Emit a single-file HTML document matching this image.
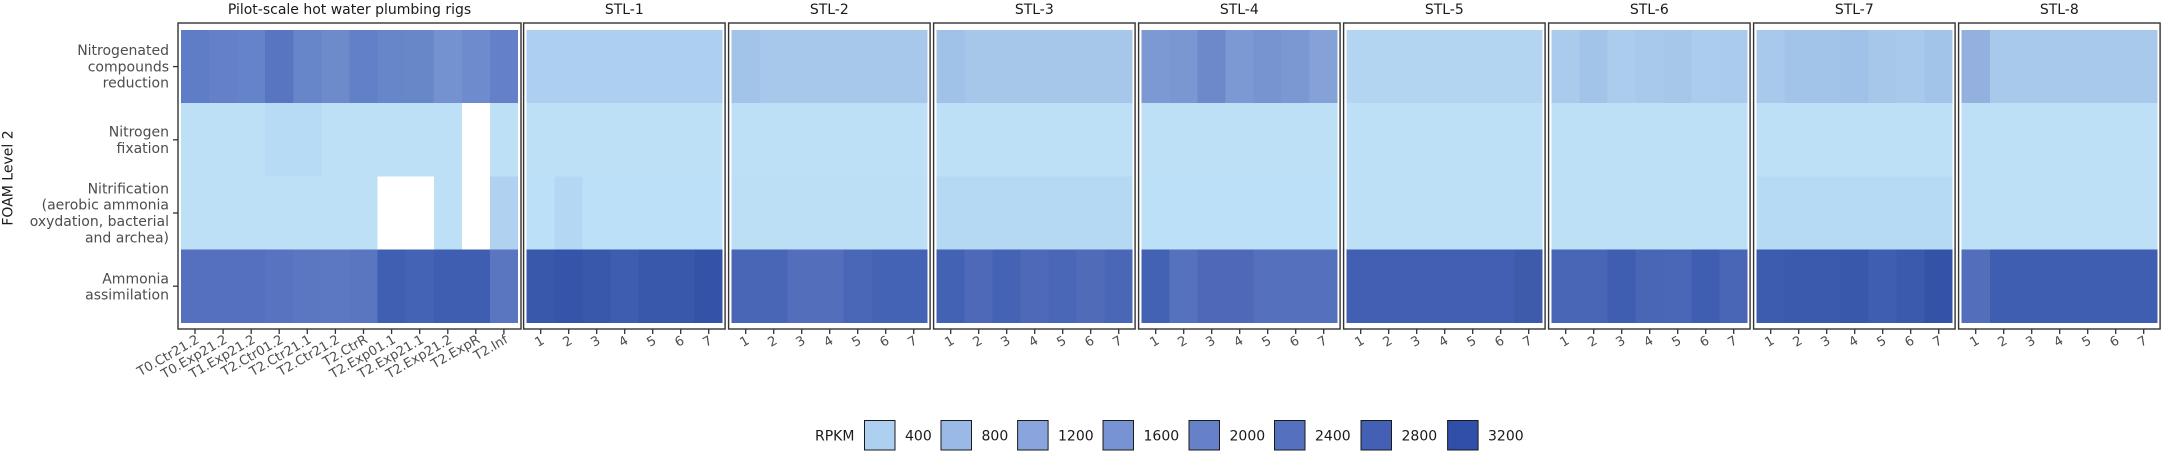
<!DOCTYPE html>
<html><head><meta charset="utf-8"><style>
html,body{margin:0;padding:0;background:#fff;}
svg{display:block;font-family:"DejaVu Sans","Liberation Sans",sans-serif;}
</style></head><body>
<svg width="2162" height="453" viewBox="0 0 2162 453" xmlns="http://www.w3.org/2000/svg">
<g shape-rendering="crispEdges">
<!-- Panel 1 tiles: x0=181, w=28.08 -->
<g transform="translate(181,30)">
<!-- row1 -->
<rect x="0" y="0" width="28.5" height="73.3" fill="#5f7dc6"/>
<rect x="28.08" y="0" width="28.5" height="73.3" fill="#6380c8"/>
<rect x="56.16" y="0" width="28.5" height="73.3" fill="#6483c8"/>
<rect x="84.24" y="0" width="28.5" height="73.3" fill="#5875c2"/>
<rect x="112.32" y="0" width="28.5" height="73.3" fill="#6785c9"/>
<rect x="140.4" y="0" width="28.5" height="73.3" fill="#6d8aca"/>
<rect x="168.48" y="0" width="28.5" height="73.3" fill="#6180c7"/>
<rect x="196.56" y="0" width="28.5" height="73.3" fill="#6785c9"/>
<rect x="224.64" y="0" width="28.5" height="73.3" fill="#6887c9"/>
<rect x="252.72" y="0" width="28.5" height="73.3" fill="#7492cf"/>
<rect x="280.8" y="0" width="28.5" height="73.3" fill="#6d8bcd"/>
<rect x="308.88" y="0" width="28.1" height="73.3" fill="#6480c8"/>
<!-- row2 -->
<rect x="0" y="73.2" width="337" height="73.3" fill="#bde0f7"/>
<rect x="84.24" y="73.2" width="56.2" height="73.3" fill="#b8dbf5"/>
<rect x="280.8" y="73.2" width="28.1" height="73.3" fill="#ffffff"/>
<!-- row3 -->
<rect x="0" y="146.4" width="337" height="73.3" fill="#bde0f7"/>
<rect x="196.56" y="146.4" width="56.2" height="73.3" fill="#ffffff"/>
<rect x="280.8" y="146.4" width="28.1" height="73.3" fill="#ffffff"/>
<rect x="308.88" y="146.4" width="28.1" height="73.3" fill="#b0d2f0"/>
<!-- row4 -->
<rect x="0" y="219.6" width="85" height="73.2" fill="#5570bf"/>
<rect x="84.24" y="219.6" width="28.5" height="73.2" fill="#5874c0"/>
<rect x="112.32" y="219.6" width="28.5" height="73.2" fill="#5b77c2"/>
<rect x="140.4" y="219.6" width="28.5" height="73.2" fill="#5c78c2"/>
<rect x="168.48" y="219.6" width="28.5" height="73.2" fill="#5a76c1"/>
<rect x="196.56" y="219.6" width="28.5" height="73.2" fill="#3f5fb3"/>
<rect x="224.64" y="219.6" width="28.5" height="73.2" fill="#4563b5"/>
<rect x="252.72" y="219.6" width="56.5" height="73.2" fill="#3f5eb2"/>
<rect x="308.88" y="219.6" width="28.1" height="73.2" fill="#5a76c1"/>
</g>

<!-- STL-1 L=523.6 tiles x=526.7 -->
<g transform="translate(526.7,30)">
<rect x="0" y="0" width="196" height="73.3" fill="#aed0f0"/>
<rect x="0" y="73.2" width="196" height="73.3" fill="#bde0f7"/>
<rect x="0" y="146.4" width="196" height="73.3" fill="#bce0f7"/>
<rect x="28" y="146.4" width="28" height="73.3" fill="#b4d7f3"/>
<rect x="0" y="219.6" width="28.5" height="73.2" fill="#3858ab"/>
<rect x="28" y="219.6" width="28.5" height="73.2" fill="#3455a9"/>
<rect x="56" y="219.6" width="28.5" height="73.2" fill="#3858ab"/>
<rect x="84" y="219.6" width="28.5" height="73.2" fill="#3d5db0"/>
<rect x="112" y="219.6" width="56.5" height="73.2" fill="#3858ab"/>
<rect x="168" y="219.6" width="28" height="73.2" fill="#3353a8"/>
</g>
<!-- STL-2 -->
<g transform="translate(731.7,30)">
<rect x="0" y="0" width="196" height="73.3" fill="#a7c8eb"/>
<rect x="0" y="0" width="28.5" height="73.3" fill="#a3c4e9"/>
<rect x="0" y="73.2" width="196" height="73.3" fill="#bde0f7"/>
<rect x="0" y="146.4" width="196" height="73.3" fill="#bcdff6"/>
<rect x="0" y="219.6" width="56.5" height="73.2" fill="#4865b6"/>
<rect x="56" y="219.6" width="56.5" height="73.2" fill="#536fbc"/>
<rect x="112" y="219.6" width="28.5" height="73.2" fill="#4a67b7"/>
<rect x="140" y="219.6" width="56" height="73.2" fill="#4563b5"/>
</g>
<!-- STL-3 -->
<g transform="translate(936.7,30)">
<rect x="0" y="0" width="196" height="73.3" fill="#a6c7ea"/>
<rect x="0" y="0" width="28.5" height="73.3" fill="#a1c2e8"/>
<rect x="0" y="73.2" width="196" height="73.3" fill="#bde0f7"/>
<rect x="0" y="146.4" width="196" height="73.3" fill="#b5d8f3"/>
<rect x="0" y="219.6" width="28.5" height="73.2" fill="#4462b4"/>
<rect x="28" y="219.6" width="28.5" height="73.2" fill="#4d69b8"/>
<rect x="56" y="219.6" width="28.5" height="73.2" fill="#4563b5"/>
<rect x="84" y="219.6" width="28.5" height="73.2" fill="#4d69b8"/>
<rect x="112" y="219.6" width="28.5" height="73.2" fill="#4a67b7"/>
<rect x="140" y="219.6" width="28.5" height="73.2" fill="#506cb9"/>
<rect x="168" y="219.6" width="28" height="73.2" fill="#4a67b7"/>
</g>
<!-- STL-4 -->
<g transform="translate(1141.7,30)">
<rect x="0" y="0" width="28.5" height="73.3" fill="#7d99d3"/>
<rect x="28" y="0" width="28.5" height="73.3" fill="#7b97d2"/>
<rect x="56" y="0" width="28.5" height="73.3" fill="#6e89ca"/>
<rect x="84" y="0" width="28.5" height="73.3" fill="#7d99d3"/>
<rect x="112" y="0" width="28.5" height="73.3" fill="#7794d0"/>
<rect x="140" y="0" width="28.5" height="73.3" fill="#7c98d3"/>
<rect x="168" y="0" width="28" height="73.3" fill="#86a1d8"/>
<rect x="0" y="73.2" width="196" height="73.3" fill="#bde0f7"/>
<rect x="0" y="146.4" width="196" height="73.3" fill="#bce0f7"/>
<rect x="0" y="219.6" width="28.5" height="73.2" fill="#4462b4"/>
<rect x="28" y="219.6" width="28.5" height="73.2" fill="#5572bd"/>
<rect x="56" y="219.6" width="56.5" height="73.2" fill="#5068b8"/>
<rect x="112" y="219.6" width="84" height="73.2" fill="#5570bd"/>
</g>
<!-- STL-5 -->
<g transform="translate(1346.7,30)">
<rect x="0" y="0" width="196" height="73.3" fill="#b3d5f2"/>
<rect x="0" y="73.2" width="196" height="73.3" fill="#bde0f7"/>
<rect x="0" y="146.4" width="196" height="73.3" fill="#bde0f7"/>
<rect x="0" y="219.6" width="196" height="73.2" fill="#425fb3"/>
<rect x="168" y="219.6" width="28" height="73.2" fill="#3d5aab"/>
</g>
<!-- STL-6 -->
<g transform="translate(1551.7,30)">
<rect x="0" y="0" width="28.5" height="73.3" fill="#aacbec"/>
<rect x="28" y="0" width="28.5" height="73.3" fill="#a3c4e9"/>
<rect x="56" y="0" width="28.5" height="73.3" fill="#abcced"/>
<rect x="84" y="0" width="28.5" height="73.3" fill="#a8c9eb"/>
<rect x="112" y="0" width="28.5" height="73.3" fill="#a6c7ea"/>
<rect x="140" y="0" width="28.5" height="73.3" fill="#abcced"/>
<rect x="168" y="0" width="28" height="73.3" fill="#aacbec"/>
<rect x="0" y="73.2" width="196" height="73.3" fill="#bde0f7"/>
<rect x="0" y="146.4" width="196" height="73.3" fill="#bde0f7"/>
<rect x="0" y="219.6" width="56.5" height="73.2" fill="#4865b6"/>
<rect x="56" y="219.6" width="28.5" height="73.2" fill="#3f5eb2"/>
<rect x="84" y="219.6" width="28.5" height="73.2" fill="#4865b6"/>
<rect x="112" y="219.6" width="28.5" height="73.2" fill="#4a67b7"/>
<rect x="140" y="219.6" width="28.5" height="73.2" fill="#3f5eb2"/>
<rect x="168" y="219.6" width="28" height="73.2" fill="#4865b6"/>
</g>
<!-- STL-7 -->
<g transform="translate(1756.7,30)">
<rect x="0" y="0" width="28.5" height="73.3" fill="#a8c9eb"/>
<rect x="28" y="0" width="56.5" height="73.3" fill="#a3c4e9"/>
<rect x="84" y="0" width="28.5" height="73.3" fill="#a1c2e8"/>
<rect x="112" y="0" width="28.5" height="73.3" fill="#a6c7ea"/>
<rect x="140" y="0" width="28.5" height="73.3" fill="#a8c9eb"/>
<rect x="168" y="0" width="28" height="73.3" fill="#a3c4e9"/>
<rect x="0" y="73.2" width="196" height="73.3" fill="#bde0f7"/>
<rect x="0" y="146.4" width="196" height="73.3" fill="#b7daf4"/>
<rect x="0" y="219.6" width="28.5" height="73.2" fill="#3c5cb0"/>
<rect x="28" y="219.6" width="56.5" height="73.2" fill="#3a5aae"/>
<rect x="84" y="219.6" width="28.5" height="73.2" fill="#3858ab"/>
<rect x="112" y="219.6" width="28.5" height="73.2" fill="#3f5eb2"/>
<rect x="140" y="219.6" width="28.5" height="73.2" fill="#3a5aae"/>
<rect x="168" y="219.6" width="28" height="73.2" fill="#3353a8"/>
</g>
<!-- STL-8 -->
<g transform="translate(1961.7,30)">
<rect x="0" y="0" width="196" height="73.3" fill="#a8c9eb"/>
<rect x="0" y="0" width="28.5" height="73.3" fill="#94b0de"/>
<rect x="0" y="73.2" width="196" height="73.3" fill="#bde0f7"/>
<rect x="0" y="146.4" width="196" height="73.3" fill="#bde0f7"/>
<rect x="0" y="219.6" width="196" height="73.2" fill="#3f5eb2"/>
<rect x="0" y="219.6" width="28.5" height="73.2" fill="#536fbc"/>
</g>
</g>

<!-- Frames -->
<g fill="none" stroke="#333" stroke-width="1.4">
<rect x="178" y="23" width="343" height="306"/>
<rect x="523.6" y="23" width="201.5" height="306"/>
<rect x="728.6" y="23" width="201.5" height="306"/>
<rect x="933.6" y="23" width="201.5" height="306"/>
<rect x="1138.6" y="23" width="201.5" height="306"/>
<rect x="1343.6" y="23" width="201.5" height="306"/>
<rect x="1548.6" y="23" width="201.5" height="306"/>
<rect x="1753.6" y="23" width="201.5" height="306"/>
<rect x="1958.6" y="23" width="201.5" height="306"/>
</g>

<!-- y ticks -->
<g stroke="#333" stroke-width="1.3">
<line x1="173" y1="66.6" x2="178" y2="66.6"/>
<line x1="173" y1="139.8" x2="178" y2="139.8"/>
<line x1="173" y1="213" x2="178" y2="213"/>
<line x1="173" y1="286.2" x2="178" y2="286.2"/>
</g>

<!-- x ticks -->
<g stroke="#333" stroke-width="1.3">
<path d="M195 329v5M223.1 329v5M251.2 329v5M279.2 329v5M307.3 329v5M335.4 329v5M363.5 329v5M391.6 329v5M419.7 329v5M447.8 329v5M475.8 329v5M503.9 329v5"/>
<path id="tk" d="M540.7 329v5M568.7 329v5M596.7 329v5M624.7 329v5M652.7 329v5M680.7 329v5M708.7 329v5"/>
<use href="#tk" x="205"/><use href="#tk" x="410"/><use href="#tk" x="615"/><use href="#tk" x="820"/><use href="#tk" x="1025"/><use href="#tk" x="1230"/><use href="#tk" x="1435"/>
</g>

<!-- Titles -->
<g font-size="14" fill="#1a1a1a" text-anchor="middle">
<text x="349.5" y="14">Pilot-scale hot water plumbing rigs</text>
<text x="624.3" y="14">STL-1</text>
<text x="829.3" y="14">STL-2</text>
<text x="1034.3" y="14">STL-3</text>
<text x="1239.3" y="14">STL-4</text>
<text x="1444.3" y="14">STL-5</text>
<text x="1649.3" y="14">STL-6</text>
<text x="1854.3" y="14">STL-7</text>
<text x="2059.3" y="14">STL-8</text>
</g>

<!-- Y labels -->
<g font-size="14" fill="#4d4d4d" text-anchor="end">
<text x="169" y="55">Nitrogenated</text>
<text x="169" y="71.3">compounds</text>
<text x="169" y="87.6">reduction</text>
<text x="169" y="136.5">Nitrogen</text>
<text x="169" y="152.8">fixation</text>
<text x="169" y="193.4">Nitrification</text>
<text x="169" y="209.7">(aerobic ammonia</text>
<text x="169" y="226">oxydation, bacterial</text>
<text x="169" y="242.3">and archea)</text>
<text x="169" y="283.3">Ammonia</text>
<text x="169" y="299.6">assimilation</text>
</g>
<text x="12.5" y="178" font-size="14" fill="#1a1a1a" text-anchor="middle" transform="rotate(-90 12.5 178)">FOAM Level 2</text>

<!-- X labels panel 1 -->
<g font-size="13" fill="#4d4d4d" text-anchor="end">
<text transform="translate(200,342) rotate(-30)">T0.Ctr21.2</text>
<text transform="translate(228.1,342) rotate(-30)">T0.Exp21.2</text>
<text transform="translate(256.2,342) rotate(-30)">T1.Exp21.2</text>
<text transform="translate(284.2,342) rotate(-30)">T2.Ctr01.2</text>
<text transform="translate(312.3,342) rotate(-30)">T2.Ctr21.1</text>
<text transform="translate(340.4,342) rotate(-30)">T2.Ctr21.2</text>
<text transform="translate(368.5,342) rotate(-30)">T2.CtrR</text>
<text transform="translate(396.6,342) rotate(-30)">T2.Exp01.1</text>
<text transform="translate(424.7,342) rotate(-30)">T2.Exp21.1</text>
<text transform="translate(452.8,342) rotate(-30)">T2.Exp21.2</text>
<text transform="translate(480.8,342) rotate(-30)">T2.ExpR</text>
<text transform="translate(508.9,342) rotate(-30)">T2.Inf</text>
</g>
<!-- X labels STL -->
<g font-size="13" fill="#4d4d4d" text-anchor="end">
<g id="nums">
<text transform="translate(545.2,343) rotate(-30)">1</text>
<text transform="translate(573.2,343) rotate(-30)">2</text>
<text transform="translate(601.2,343) rotate(-30)">3</text>
<text transform="translate(629.2,343) rotate(-30)">4</text>
<text transform="translate(657.2,343) rotate(-30)">5</text>
<text transform="translate(685.2,343) rotate(-30)">6</text>
<text transform="translate(713.2,343) rotate(-30)">7</text>
</g>
<g transform="translate(205,0)"><text transform="translate(545.2,343) rotate(-30)">1</text><text transform="translate(573.2,343) rotate(-30)">2</text><text transform="translate(601.2,343) rotate(-30)">3</text><text transform="translate(629.2,343) rotate(-30)">4</text><text transform="translate(657.2,343) rotate(-30)">5</text><text transform="translate(685.2,343) rotate(-30)">6</text><text transform="translate(713.2,343) rotate(-30)">7</text></g>
<g transform="translate(410,0)"><text transform="translate(545.2,343) rotate(-30)">1</text><text transform="translate(573.2,343) rotate(-30)">2</text><text transform="translate(601.2,343) rotate(-30)">3</text><text transform="translate(629.2,343) rotate(-30)">4</text><text transform="translate(657.2,343) rotate(-30)">5</text><text transform="translate(685.2,343) rotate(-30)">6</text><text transform="translate(713.2,343) rotate(-30)">7</text></g>
<g transform="translate(615,0)"><text transform="translate(545.2,343) rotate(-30)">1</text><text transform="translate(573.2,343) rotate(-30)">2</text><text transform="translate(601.2,343) rotate(-30)">3</text><text transform="translate(629.2,343) rotate(-30)">4</text><text transform="translate(657.2,343) rotate(-30)">5</text><text transform="translate(685.2,343) rotate(-30)">6</text><text transform="translate(713.2,343) rotate(-30)">7</text></g>
<g transform="translate(820,0)"><text transform="translate(545.2,343) rotate(-30)">1</text><text transform="translate(573.2,343) rotate(-30)">2</text><text transform="translate(601.2,343) rotate(-30)">3</text><text transform="translate(629.2,343) rotate(-30)">4</text><text transform="translate(657.2,343) rotate(-30)">5</text><text transform="translate(685.2,343) rotate(-30)">6</text><text transform="translate(713.2,343) rotate(-30)">7</text></g>
<g transform="translate(1025,0)"><text transform="translate(545.2,343) rotate(-30)">1</text><text transform="translate(573.2,343) rotate(-30)">2</text><text transform="translate(601.2,343) rotate(-30)">3</text><text transform="translate(629.2,343) rotate(-30)">4</text><text transform="translate(657.2,343) rotate(-30)">5</text><text transform="translate(685.2,343) rotate(-30)">6</text><text transform="translate(713.2,343) rotate(-30)">7</text></g>
<g transform="translate(1230,0)"><text transform="translate(545.2,343) rotate(-30)">1</text><text transform="translate(573.2,343) rotate(-30)">2</text><text transform="translate(601.2,343) rotate(-30)">3</text><text transform="translate(629.2,343) rotate(-30)">4</text><text transform="translate(657.2,343) rotate(-30)">5</text><text transform="translate(685.2,343) rotate(-30)">6</text><text transform="translate(713.2,343) rotate(-30)">7</text></g>
<g transform="translate(1435,0)"><text transform="translate(545.2,343) rotate(-30)">1</text><text transform="translate(573.2,343) rotate(-30)">2</text><text transform="translate(601.2,343) rotate(-30)">3</text><text transform="translate(629.2,343) rotate(-30)">4</text><text transform="translate(657.2,343) rotate(-30)">5</text><text transform="translate(685.2,343) rotate(-30)">6</text><text transform="translate(713.2,343) rotate(-30)">7</text></g>
</g>

<!-- Legend -->
<g font-size="14" fill="#1a1a1a">
<text x="815" y="440.5">RPKM</text>
<g stroke="#1a1a1a" stroke-width="1">
<rect x="864.5" y="420.5" width="30.5" height="29.5" fill="#aed0f0"/>
<rect x="941" y="420.5" width="30.5" height="29.5" fill="#9bb9e6"/>
<rect x="1017.6" y="420.5" width="30.5" height="29.5" fill="#8aa5dd"/>
<rect x="1103" y="420.5" width="30.5" height="29.5" fill="#7893d3"/>
<rect x="1189" y="420.5" width="30.5" height="29.5" fill="#6781c9"/>
<rect x="1274.5" y="420.5" width="30.5" height="29.5" fill="#5570bf"/>
<rect x="1361" y="420.5" width="30.5" height="29.5" fill="#4460b5"/>
<rect x="1447.6" y="420.5" width="30.5" height="29.5" fill="#2f4fa8"/>
</g>
<text x="905" y="440.5">400</text>
<text x="981.5" y="440.5">800</text>
<text x="1058" y="440.5">1200</text>
<text x="1143.5" y="440.5">1600</text>
<text x="1229.5" y="440.5">2000</text>
<text x="1315" y="440.5">2400</text>
<text x="1401.5" y="440.5">2800</text>
<text x="1488" y="440.5">3200</text>
</g>
</svg>
</body></html>
